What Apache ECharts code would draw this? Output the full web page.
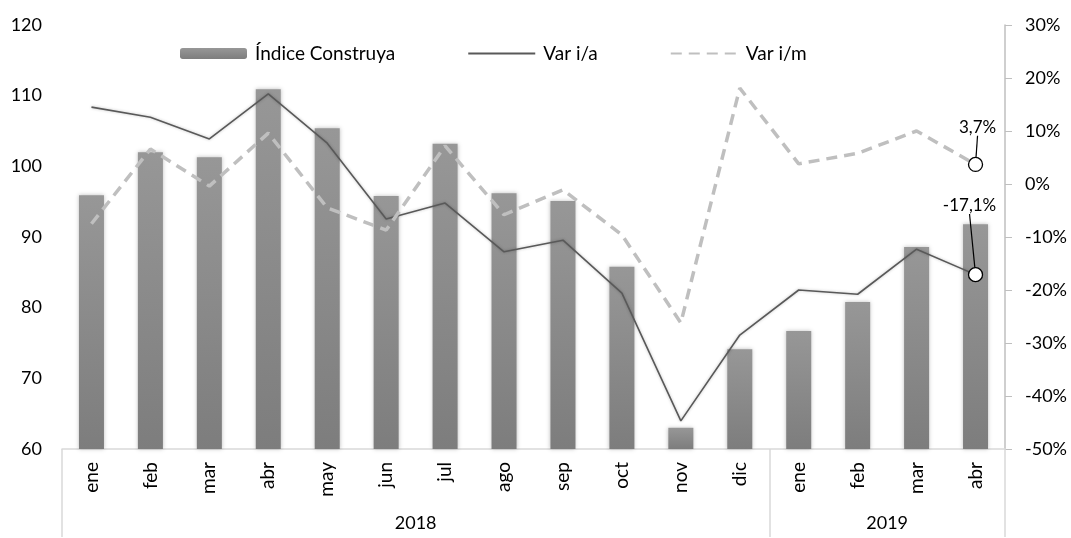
<!DOCTYPE html>
<html>
<head>
<meta charset="utf-8">
<script src="https://cdn.jsdelivr.net/npm/echarts@6/dist/echarts.min.js"></script>
<style>
  html, body { margin: 0; padding: 0; background: #fff; }
  #main { width: 1071px; height: 538px; }
</style>
</head>
<body>
<div id="main"></div>
<script>
// datos
const meses = ['ene', 'feb', 'mar', 'abr', 'may', 'jun', 'jul', 'ago', 'sep', 'oct', 'nov', 'dic',
  'ene', 'feb', 'mar', 'abr']
const anios = ['2018', '2019']
const indice = [95.9, 102.0, 101.3, 110.9, 105.4, 95.8, 103.2, 96.2, 95.1, 85.8, 63.0, 74.1,
  76.7, 80.8, 88.6, 91.8]
const varIA = [14.5, 12.6, 8.5, 17.0, 7.7, -6.6, -3.6, -12.8, -10.6, -20.6, -44.7, -28.5,
  -20.0, -20.8, -12.3, -17.1]
const varIM = [-7.5, 6.6, -0.4, 9.6, -4.5, -8.7, 7.2, -5.8, -1.1, -9.6, -26.2, 18.1,
  3.8, 5.8, 10.0, 3.7]

const fuente = 'Lato'
const pct = v => v.toFixed(1).replace('.', ',') + '%'

// último punto con círculo y etiqueta
function conMarca(arr) {
  return arr.map((v, i) => {
    if (i !== arr.length - 1) return v
    return {
      value: v,
      symbol: 'circle',
      symbolSize: 14,
      itemStyle: { color: '#fff', borderColor: '#000', borderWidth: 1.3 },
      label: {
        show: true,
        position: 'top',
        formatter: p => pct(p.value),
        color: '#000',
        fontSize: 17,
        fontFamily: fuente
      }
    }
  })
}

const myChart = echarts.init(document.getElementById('main'))

var option = {
  animation: false,
  textStyle: { fontFamily: fuente },
  grid: { left: 62, right: 66, top: 25, bottom: 89 },
  legend: {
    left: 175,
    top: 39,
    itemGap: 72,
    itemWidth: 67,
    itemHeight: 11,
    textStyle: { fontSize: 19, color: '#000', fontFamily: fuente, padding: [0, 0, 0, 3] },
    data: [
      'Índice Construya',
      { name: 'Var i/a', itemStyle: { opacity: 0 } },
      { name: 'Var i/m', itemStyle: { opacity: 0 } }
    ]
  },
  xAxis: [
    {
      type: 'category',
      data: meses,
      axisLine: { onZero: false, lineStyle: { color: '#d9d9d9', width: 1.5 } },
      axisTick: { show: false },
      axisLabel: { rotate: 90, fontSize: 19, color: '#000', margin: 13 }
    },
    {
      type: 'value',
      min: 0,
      max: meses.length,
      position: 'bottom',
      splitLine: { show: false },
      axisLine: { show: false, onZero: false },
      axisTick: {
        show: true,
        customValues: [0, 12, 16],
        length: 88,
        lineStyle: { color: '#d9d9d9', width: 1.5 }
      },
      axisLabel: {
        customValues: [6, 14],
        formatter: v => (v < 12 ? anios[0] : anios[1]),
        fontSize: 18,
        color: '#000',
        margin: 65
      }
    }
  ],
  yAxis: [
    {
      type: 'value',
      min: 60,
      max: 120,
      interval: 10,
      splitLine: { show: false },
      axisLine: { show: false },
      axisTick: { show: false },
      axisLabel: { fontSize: 18, color: '#000', margin: 20 }
    },
    {
      type: 'value',
      min: -50,
      max: 30,
      interval: 10,
      position: 'right',
      splitLine: { show: false },
      axisLine: { show: true, lineStyle: { color: '#bfbfbf', width: 1.5 } },
      axisTick: { show: true, length: 7, lineStyle: { color: '#bfbfbf' } },
      axisLabel: { fontSize: 18, color: '#000', margin: 20, formatter: '{value}%' }
    }
  ],
  series: [
    {
      name: 'Índice Construya',
      type: 'bar',
      barWidth: 25,
      data: indice,
      itemStyle: {
        color: new echarts.graphic.LinearGradient(0, 0, 0, 1, [
          { offset: 0, color: '#979797' },
          { offset: 1, color: '#7d7d7d' }
        ]),
        shadowBlur: 4,
        shadowColor: 'rgba(0,0,0,0.25)'
      }
    },
    {
      name: 'Var i/a',
      type: 'line',
      yAxisIndex: 1,
      symbol: 'none',
      data: conMarca(varIA),
      lineStyle: { color: '#595959', width: 1.6, shadowBlur: 3, shadowColor: 'rgba(0,0,0,0.25)' },
      itemStyle: { color: '#595959' },
      labelLayout: p => (p.dataIndex === varIA.length - 1 ? { dx: -6, dy: -48 } : {}),
      labelLine: { show: true, lineStyle: { color: '#000', width: 1.2 } },
      z: 3
    },
    {
      name: 'Var i/m',
      type: 'line',
      yAxisIndex: 1,
      symbol: 'none',
      data: conMarca(varIM),
      lineStyle: { color: '#bfbfbf', width: 3.5, type: [11, 7] },
      itemStyle: { color: '#bfbfbf' },
      labelLayout: p => (p.dataIndex === varIM.length - 1 ? { dx: 2, dy: -16 } : {}),
      labelLine: { show: true, lineStyle: { color: '#000', width: 1.2 } },
      z: 4
    }
  ]
}

myChart.setOption(option)
</script>
</body>
</html>
